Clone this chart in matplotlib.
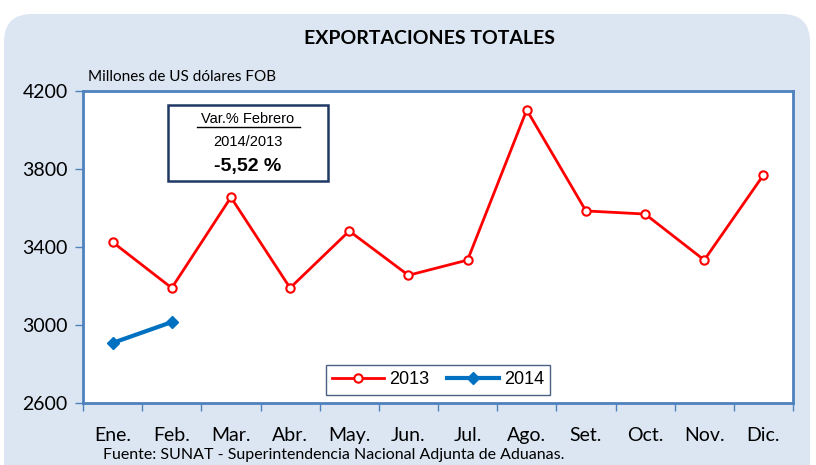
import matplotlib
matplotlib.use("Agg")
import matplotlib.pyplot as plt
from matplotlib.patches import FancyBboxPatch
from matplotlib.lines import Line2D

months = ["Ene.", "Feb.", "Mar.", "Abr.", "May.", "Jun.", "Jul.", "Ago.", "Set.", "Oct.", "Nov.", "Dic."]
exp_2013 = [3425, 3190, 3655, 3190, 3482, 3255, 3333, 4103, 3585, 3569, 3333, 3769]
exp_2014 = [2908, 3015]
yticks = [2600, 3000, 3400, 3800, 4200]

W, H = 816, 465
fig = plt.figure(figsize=(W/100, H/100), dpi=100)
fig.patch.set_facecolor("white")

# background panel in pixel-like coordinates
bgax = fig.add_axes([0, 0, 1, 1], zorder=-10)
bgax.set_xlim(0, W)
bgax.set_ylim(H, 0)
bgax.axis("off")
bgax.add_patch(FancyBboxPatch((4, 14), 806, 500,
                              boxstyle="round,pad=0,rounding_size=28",
                              facecolor="#dce6f2", edgecolor="none"))

left, right, top, bottom = 83, 793, 91, 403
ax = fig.add_axes([left/W, 1 - bottom/H, (right-left)/W, (bottom-top)/H])
ax.set_facecolor("white")
x = list(range(len(months)))
ax.plot(x, exp_2013, color="#ff0000", lw=2, marker="o", ms=6,
        mfc="white", mec="#ff0000", mew=1.5, zorder=3, clip_on=False)
ax.plot(x[:len(exp_2014)], exp_2014, color="#0070c0", lw=3, marker="D", ms=6.5,
        mfc="#0070c0", mec="#0070c0", zorder=3)
ax.set_xlim(-0.5, 11.5)
ax.set_ylim(2600, 4200)
ax.set_yticks(yticks)
ax.set_yticklabels([str(v) for v in yticks], fontsize=14, family="Lato")
ax.set_xticks(x)
ax.set_xticklabels(months, fontsize=14, family="Lato")
ax.set_xticks([i - 0.5 for i in range(13)], minor=True)
ax.tick_params(axis="x", which="major", length=0, pad=17)
ax.tick_params(axis="x", which="minor", length=6, color="#4f81bd", width=1)
ax.tick_params(axis="y", length=6, color="#4f81bd", width=1, pad=5)
for s in ax.spines.values():
    s.set_color("#4f81bd")
    s.set_linewidth(2)

fig.text(430/W, 1 - 38/H, "EXPORTACIONES TOTALES", ha="center", va="center",
         fontsize=14, fontweight="bold", family="Lato")
fig.text(88/W, 1 - 77/H, "Millones de US dólares FOB", ha="left", va="center",
         fontsize=11, family="Lato")
fig.text(103/W, 1 - 455/H, "Fuente: SUNAT - Superintendencia Nacional Adjunta de Aduanas.",
         ha="left", va="center", fontsize=11.5, family="Lato")

# annotation box
bx0, by0, bx1, by1 = 168, 105, 328, 181
box = FancyBboxPatch((bx0/W, 1 - by1/H), (bx1-bx0)/W, (by1-by0)/H,
                     boxstyle="square,pad=0", transform=fig.transFigure,
                     facecolor="white", edgecolor="#1f3864", lw=1.8, zorder=5)
fig.add_artist(box)
fig.text(248/W, 1 - 119/H, "Var.% Febrero", ha="center", va="center",
         fontsize=10.5, family="Liberation Sans", zorder=6)
fig.add_artist(Line2D([197/W, 300/W], [1 - 127/H, 1 - 127/H], color="black", lw=1, zorder=6))
fig.text(248/W, 1 - 142/H, "2014/2013", ha="center", va="center",
         fontsize=10.5, family="Liberation Sans", zorder=6)
fig.text(248/W, 1 - 166/H, "-5,52 %", ha="center", va="center",
         fontsize=14, fontweight="bold", family="Liberation Sans", zorder=6)

leg = ax.legend(["2013", "2014"], loc="lower center", bbox_to_anchor=(0.5, 0.015),
                ncol=2, frameon=True, fancybox=False,
                handlelength=2.9, handletextpad=0.25, columnspacing=1.0,
                borderpad=0.35, borderaxespad=0.2,
                prop={"family": "Liberation Sans", "size": 13})
leg.get_frame().set_edgecolor("#1f3864")
leg.get_frame().set_linewidth(1)

fig.savefig("out.png", dpi=100)
